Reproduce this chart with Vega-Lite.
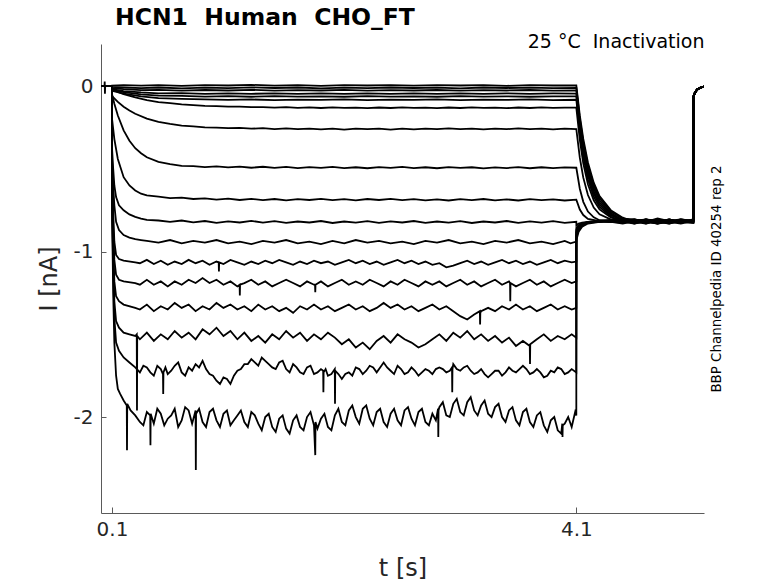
{
"$schema":"https://vega.github.io/schema/vega-lite/v6.json",
"width":603,"height":469,
"autosize":{"type":"none"},
"padding":{"left":101,"top":44,"right":74,"bottom":70},
"background":"white",
"config":{"view":{"stroke":null},"font":"DejaVu Sans"},
"title":{"text":"HCN1\u00a0\u00a0Human\u00a0\u00a0CHO_FT","anchor":"start","frame":"group","dx":14,"offset":3,"fontSize":23.5,"fontWeight":"bold","font":"DejaVu Sans","color":"#000000"},
"layer":[
{"data":{"values":[
{"k":1,"t":0.005,"i":0},{"k":1,"t":0.035,"i":0},{"k":1,"t":0.037,"i":0.028},{"k":1,"t":0.039,"i":-0.045},{"k":1,"t":0.041,"i":0},{"k":1,"t":0.1,"i":0},{"k":1,"t":0.1005,"i":0.004},{"k":1,"t":0.2,"i":0.007},{"k":1,"t":0.35,"i":0.003},{"k":1,"t":0.5,"i":0.006},{"k":1,"t":0.7,"i":0.002},{"k":1,"t":0.9,"i":0.007},{"k":1,"t":1.1,"i":0.004},{"k":1,"t":1.3,"i":0.008},{"k":1,"t":1.5,"i":0.003},{"k":1,"t":1.7,"i":0.006},{"k":1,"t":1.9,"i":0.002},{"k":1,"t":2.1,"i":0.007},{"k":1,"t":2.3,"i":0.004},{"k":1,"t":2.5,"i":0.006},{"k":1,"t":2.7,"i":0.003},{"k":1,"t":2.9,"i":0.007},{"k":1,"t":3.1,"i":0.004},{"k":1,"t":3.3,"i":0.006},{"k":1,"t":3.5,"i":0.002},{"k":1,"t":3.7,"i":0.007},{"k":1,"t":3.9,"i":0.004},{"k":1,"t":4.1,"i":0.005},
{"k":1,"t":4.13,"i":-0.177},{"k":1,"t":4.16,"i":-0.319},{"k":1,"t":4.2,"i":-0.461},{"k":1,"t":4.25,"i":-0.583},{"k":1,"t":4.3,"i":-0.664},{"k":1,"t":4.4,"i":-0.752},{"k":1,"t":4.5,"i":-0.795},{"k":1,"t":4.6,"i":-0.82},{"k":1,"t":4.7,"i":-0.81},{"k":1,"t":4.8,"i":-0.825},{"k":1,"t":4.9,"i":-0.805},{"k":1,"t":5.0,"i":-0.82},{"k":1,"t":5.108,"i":-0.81},{"k":1,"t":5.1085,"i":-0.065},{"k":1,"t":5.12,"i":-0.042},{"k":1,"t":5.14,"i":-0.02},{"k":1,"t":5.17,"i":-0.008},{"k":1,"t":5.2,"i":-0.003},
{"k":2,"t":0.005,"i":0},{"k":2,"t":0.1,"i":0},{"k":2,"t":0.1005,"i":-0.004},{"k":2,"t":0.2,"i":-0.008},{"k":2,"t":0.35,"i":-0.012},{"k":2,"t":0.5,"i":-0.008},{"k":2,"t":0.7,"i":-0.013},{"k":2,"t":0.9,"i":-0.009},{"k":2,"t":1.1,"i":-0.012},{"k":2,"t":1.3,"i":-0.007},{"k":2,"t":1.5,"i":-0.011},{"k":2,"t":1.7,"i":-0.008},{"k":2,"t":1.9,"i":-0.013},{"k":2,"t":2.1,"i":-0.009},{"k":2,"t":2.3,"i":-0.012},{"k":2,"t":2.5,"i":-0.008},{"k":2,"t":2.7,"i":-0.011},{"k":2,"t":2.9,"i":-0.009},{"k":2,"t":3.1,"i":-0.013},{"k":2,"t":3.3,"i":-0.008},{"k":2,"t":3.5,"i":-0.011},{"k":2,"t":3.7,"i":-0.009},{"k":2,"t":3.9,"i":-0.012},{"k":2,"t":4.1,"i":-0.01},
{"k":2,"t":4.13,"i":-0.196},{"k":2,"t":4.16,"i":-0.34},{"k":2,"t":4.2,"i":-0.48},{"k":2,"t":4.25,"i":-0.6},{"k":2,"t":4.3,"i":-0.677},{"k":2,"t":4.4,"i":-0.76},{"k":2,"t":4.5,"i":-0.8},{"k":2,"t":4.6,"i":-0.805},{"k":2,"t":4.7,"i":-0.825},{"k":2,"t":4.8,"i":-0.81},{"k":2,"t":4.9,"i":-0.82},{"k":2,"t":5.0,"i":-0.805},{"k":2,"t":5.108,"i":-0.815},{"k":2,"t":5.1085,"i":-0.062},{"k":2,"t":5.12,"i":-0.04},{"k":2,"t":5.14,"i":-0.019},{"k":2,"t":5.17,"i":-0.007},{"k":2,"t":5.2,"i":-0.002},
{"k":3,"t":0.005,"i":0},{"k":3,"t":0.1,"i":0},{"k":3,"t":0.1005,"i":-0.012},{"k":3,"t":0.2,"i":-0.018},{"k":3,"t":0.35,"i":-0.024},{"k":3,"t":0.5,"i":-0.022},{"k":3,"t":0.7,"i":-0.027},{"k":3,"t":0.9,"i":-0.023},{"k":3,"t":1.1,"i":-0.026},{"k":3,"t":1.3,"i":-0.022},{"k":3,"t":1.5,"i":-0.027},{"k":3,"t":1.7,"i":-0.024},{"k":3,"t":1.9,"i":-0.026},{"k":3,"t":2.1,"i":-0.022},{"k":3,"t":2.3,"i":-0.027},{"k":3,"t":2.5,"i":-0.024},{"k":3,"t":2.7,"i":-0.026},{"k":3,"t":2.9,"i":-0.023},{"k":3,"t":3.1,"i":-0.027},{"k":3,"t":3.3,"i":-0.024},{"k":3,"t":3.5,"i":-0.026},{"k":3,"t":3.7,"i":-0.023},{"k":3,"t":3.9,"i":-0.027},{"k":3,"t":4.1,"i":-0.025},
{"k":3,"t":4.13,"i":-0.215},{"k":3,"t":4.16,"i":-0.359},{"k":3,"t":4.2,"i":-0.5},{"k":3,"t":4.25,"i":-0.616},{"k":3,"t":4.3,"i":-0.691},{"k":3,"t":4.4,"i":-0.768},{"k":3,"t":4.5,"i":-0.81},{"k":3,"t":4.6,"i":-0.825},{"k":3,"t":4.7,"i":-0.805},{"k":3,"t":4.8,"i":-0.82},{"k":3,"t":4.9,"i":-0.81},{"k":3,"t":5.0,"i":-0.825},{"k":3,"t":5.108,"i":-0.815},{"k":3,"t":5.1085,"i":-0.066},{"k":3,"t":5.12,"i":-0.043},{"k":3,"t":5.14,"i":-0.021},{"k":3,"t":5.17,"i":-0.009},{"k":3,"t":5.2,"i":-0.003},
{"k":4,"t":0.005,"i":0},{"k":4,"t":0.1,"i":0},{"k":4,"t":0.1005,"i":-0.018},{"k":4,"t":0.2,"i":-0.03},{"k":4,"t":0.35,"i":-0.038},{"k":4,"t":0.5,"i":-0.043},{"k":4,"t":0.7,"i":-0.042},{"k":4,"t":0.9,"i":-0.047},{"k":4,"t":1.1,"i":-0.043},{"k":4,"t":1.3,"i":-0.046},{"k":4,"t":1.5,"i":-0.044},{"k":4,"t":1.7,"i":-0.047},{"k":4,"t":1.9,"i":-0.043},{"k":4,"t":2.1,"i":-0.046},{"k":4,"t":2.3,"i":-0.044},{"k":4,"t":2.5,"i":-0.047},{"k":4,"t":2.7,"i":-0.043},{"k":4,"t":2.9,"i":-0.046},{"k":4,"t":3.1,"i":-0.044},{"k":4,"t":3.3,"i":-0.047},{"k":4,"t":3.5,"i":-0.043},{"k":4,"t":3.7,"i":-0.046},{"k":4,"t":3.9,"i":-0.044},{"k":4,"t":4.1,"i":-0.045},
{"k":4,"t":4.13,"i":-0.238},{"k":4,"t":4.16,"i":-0.382},{"k":4,"t":4.2,"i":-0.521},{"k":4,"t":4.25,"i":-0.634},{"k":4,"t":4.3,"i":-0.705},{"k":4,"t":4.4,"i":-0.776},{"k":4,"t":4.5,"i":-0.82},{"k":4,"t":4.6,"i":-0.81},{"k":4,"t":4.7,"i":-0.83},{"k":4,"t":4.8,"i":-0.805},{"k":4,"t":4.9,"i":-0.82},{"k":4,"t":5.0,"i":-0.81},{"k":4,"t":5.108,"i":-0.82},{"k":4,"t":5.1085,"i":-0.064},{"k":4,"t":5.12,"i":-0.041},{"k":4,"t":5.14,"i":-0.02},{"k":4,"t":5.17,"i":-0.008},{"k":4,"t":5.2,"i":-0.003},
{"k":5,"t":0.005,"i":0},{"k":5,"t":0.1,"i":0},{"k":5,"t":0.1005,"i":-0.022},{"k":5,"t":0.2,"i":-0.036},{"k":5,"t":0.35,"i":-0.05},{"k":5,"t":0.5,"i":-0.057},{"k":5,"t":0.7,"i":-0.058},{"k":5,"t":0.9,"i":-0.063},{"k":5,"t":1.1,"i":-0.06},{"k":5,"t":1.3,"i":-0.064},{"k":5,"t":1.5,"i":-0.06},{"k":5,"t":1.7,"i":-0.063},{"k":5,"t":1.9,"i":-0.061},{"k":5,"t":2.1,"i":-0.064},{"k":5,"t":2.3,"i":-0.06},{"k":5,"t":2.5,"i":-0.063},{"k":5,"t":2.7,"i":-0.061},{"k":5,"t":2.9,"i":-0.064},{"k":5,"t":3.1,"i":-0.06},{"k":5,"t":3.3,"i":-0.063},{"k":5,"t":3.5,"i":-0.061},{"k":5,"t":3.7,"i":-0.064},{"k":5,"t":3.9,"i":-0.061},{"k":5,"t":4.1,"i":-0.062},
{"k":5,"t":4.13,"i":-0.257},{"k":5,"t":4.16,"i":-0.403},{"k":5,"t":4.2,"i":-0.54},{"k":5,"t":4.25,"i":-0.65},{"k":5,"t":4.3,"i":-0.717},{"k":5,"t":4.4,"i":-0.782},{"k":5,"t":4.5,"i":-0.805},{"k":5,"t":4.6,"i":-0.82},{"k":5,"t":4.7,"i":-0.81},{"k":5,"t":4.8,"i":-0.825},{"k":5,"t":4.9,"i":-0.815},{"k":5,"t":5.0,"i":-0.805},{"k":5,"t":5.108,"i":-0.82},{"k":5,"t":5.1085,"i":-0.067},{"k":5,"t":5.12,"i":-0.044},{"k":5,"t":5.14,"i":-0.022},{"k":5,"t":5.17,"i":-0.009},{"k":5,"t":5.2,"i":-0.004},
{"k":6,"t":0.005,"i":0},{"k":6,"t":0.1,"i":0},{"k":6,"t":0.1005,"i":-0.028},{"k":6,"t":0.2,"i":-0.045},{"k":6,"t":0.35,"i":-0.062},{"k":6,"t":0.5,"i":-0.072},{"k":6,"t":0.7,"i":-0.077},{"k":6,"t":0.9,"i":-0.08},{"k":6,"t":1.1,"i":-0.083},{"k":6,"t":1.3,"i":-0.08},{"k":6,"t":1.5,"i":-0.084},{"k":6,"t":1.7,"i":-0.081},{"k":6,"t":1.9,"i":-0.083},{"k":6,"t":2.1,"i":-0.08},{"k":6,"t":2.3,"i":-0.084},{"k":6,"t":2.5,"i":-0.081},{"k":6,"t":2.7,"i":-0.083},{"k":6,"t":2.9,"i":-0.08},{"k":6,"t":3.1,"i":-0.084},{"k":6,"t":3.3,"i":-0.081},{"k":6,"t":3.5,"i":-0.083},{"k":6,"t":3.7,"i":-0.08},{"k":6,"t":3.9,"i":-0.084},{"k":6,"t":4.1,"i":-0.082},
{"k":6,"t":4.13,"i":-0.28},{"k":6,"t":4.16,"i":-0.426},{"k":6,"t":4.2,"i":-0.562},{"k":6,"t":4.25,"i":-0.668},{"k":6,"t":4.3,"i":-0.73},{"k":6,"t":4.4,"i":-0.789},{"k":6,"t":4.5,"i":-0.825},{"k":6,"t":4.6,"i":-0.81},{"k":6,"t":4.7,"i":-0.82},{"k":6,"t":4.8,"i":-0.8},{"k":6,"t":4.9,"i":-0.815},{"k":6,"t":5.0,"i":-0.825},{"k":6,"t":5.108,"i":-0.81},{"k":6,"t":5.1085,"i":-0.063},{"k":6,"t":5.12,"i":-0.04},{"k":6,"t":5.14,"i":-0.02},{"k":6,"t":5.17,"i":-0.008},{"k":6,"t":5.2,"i":-0.003},
{"k":7,"t":0.005,"i":0},{"k":7,"t":0.1,"i":0},{"k":7,"t":0.1005,"i":-0.02},{"k":7,"t":0.15,"i":-0.035},{"k":7,"t":0.2,"i":-0.048},{"k":7,"t":0.3,"i":-0.068},{"k":7,"t":0.4,"i":-0.084},{"k":7,"t":0.5,"i":-0.096},{"k":7,"t":0.6,"i":-0.103},{"k":7,"t":0.7,"i":-0.11},{"k":7,"t":0.8,"i":-0.114},{"k":7,"t":0.9,"i":-0.119},{"k":7,"t":1.0,"i":-0.12},{"k":7,"t":1.1,"i":-0.124},{"k":7,"t":1.2,"i":-0.123},{"k":7,"t":1.3,"i":-0.127},{"k":7,"t":1.4,"i":-0.126},{"k":7,"t":1.5,"i":-0.13},{"k":7,"t":1.6,"i":-0.127},{"k":7,"t":1.7,"i":-0.131},{"k":7,"t":1.8,"i":-0.128},{"k":7,"t":1.9,"i":-0.132},{"k":7,"t":2.0,"i":-0.128},{"k":7,"t":2.1,"i":-0.131},{"k":7,"t":2.2,"i":-0.129},{"k":7,"t":2.3,"i":-0.133},{"k":7,"t":2.4,"i":-0.129},{"k":7,"t":2.5,"i":-0.132},{"k":7,"t":2.6,"i":-0.128},{"k":7,"t":2.7,"i":-0.131},{"k":7,"t":2.8,"i":-0.129},{"k":7,"t":2.9,"i":-0.133},{"k":7,"t":3.0,"i":-0.129},{"k":7,"t":3.1,"i":-0.132},{"k":7,"t":3.2,"i":-0.128},{"k":7,"t":3.3,"i":-0.131},{"k":7,"t":3.4,"i":-0.129},{"k":7,"t":3.5,"i":-0.133},{"k":7,"t":3.6,"i":-0.129},{"k":7,"t":3.7,"i":-0.132},{"k":7,"t":3.8,"i":-0.128},{"k":7,"t":3.9,"i":-0.131},{"k":7,"t":4.0,"i":-0.129},{"k":7,"t":4.1,"i":-0.13},
{"k":7,"t":4.13,"i":-0.325},{"k":7,"t":4.16,"i":-0.466},{"k":7,"t":4.2,"i":-0.593},{"k":7,"t":4.25,"i":-0.69},{"k":7,"t":4.3,"i":-0.745},{"k":7,"t":4.4,"i":-0.795},{"k":7,"t":4.5,"i":-0.81},{"k":7,"t":4.6,"i":-0.83},{"k":7,"t":4.7,"i":-0.815},{"k":7,"t":4.8,"i":-0.82},{"k":7,"t":4.9,"i":-0.805},{"k":7,"t":5.0,"i":-0.82},{"k":7,"t":5.108,"i":-0.815},{"k":7,"t":5.1085,"i":-0.066},{"k":7,"t":5.12,"i":-0.043},{"k":7,"t":5.14,"i":-0.021},{"k":7,"t":5.17,"i":-0.008},{"k":7,"t":5.2,"i":-0.003},
{"k":8,"t":0.005,"i":0},{"k":8,"t":0.1,"i":0},{"k":8,"t":0.1005,"i":-0.06},{"k":8,"t":0.15,"i":-0.095},{"k":8,"t":0.2,"i":-0.124},{"k":8,"t":0.25,"i":-0.147},{"k":8,"t":0.3,"i":-0.167},{"k":8,"t":0.4,"i":-0.196},{"k":8,"t":0.5,"i":-0.216},{"k":8,"t":0.6,"i":-0.228},{"k":8,"t":0.7,"i":-0.238},{"k":8,"t":0.8,"i":-0.243},{"k":8,"t":0.9,"i":-0.249},{"k":8,"t":1.0,"i":-0.25},{"k":8,"t":1.1,"i":-0.254},{"k":8,"t":1.2,"i":-0.252},{"k":8,"t":1.3,"i":-0.257},{"k":8,"t":1.4,"i":-0.254},{"k":8,"t":1.5,"i":-0.259},{"k":8,"t":1.6,"i":-0.255},{"k":8,"t":1.7,"i":-0.26},{"k":8,"t":1.8,"i":-0.256},{"k":8,"t":1.9,"i":-0.261},{"k":8,"t":2.0,"i":-0.257},{"k":8,"t":2.1,"i":-0.262},{"k":8,"t":2.2,"i":-0.256},{"k":8,"t":2.3,"i":-0.26},{"k":8,"t":2.4,"i":-0.257},{"k":8,"t":2.5,"i":-0.262},{"k":8,"t":2.6,"i":-0.256},{"k":8,"t":2.7,"i":-0.261},{"k":8,"t":2.8,"i":-0.257},{"k":8,"t":2.9,"i":-0.26},{"k":8,"t":3.0,"i":-0.255},{"k":8,"t":3.1,"i":-0.26},{"k":8,"t":3.2,"i":-0.256},{"k":8,"t":3.3,"i":-0.261},{"k":8,"t":3.4,"i":-0.257},{"k":8,"t":3.5,"i":-0.26},{"k":8,"t":3.6,"i":-0.255},{"k":8,"t":3.7,"i":-0.26},{"k":8,"t":3.8,"i":-0.256},{"k":8,"t":3.9,"i":-0.261},{"k":8,"t":4.0,"i":-0.257},{"k":8,"t":4.1,"i":-0.259},
{"k":8,"t":4.13,"i":-0.432},{"k":8,"t":4.16,"i":-0.553},{"k":8,"t":4.2,"i":-0.658},{"k":8,"t":4.25,"i":-0.734},{"k":8,"t":4.3,"i":-0.774},{"k":8,"t":4.4,"i":-0.807},{"k":8,"t":4.5,"i":-0.82},{"k":8,"t":4.6,"i":-0.805},{"k":8,"t":4.7,"i":-0.815},{"k":8,"t":4.8,"i":-0.83},{"k":8,"t":4.9,"i":-0.81},{"k":8,"t":5.0,"i":-0.82},{"k":8,"t":5.108,"i":-0.805},{"k":8,"t":5.1085,"i":-0.065},{"k":8,"t":5.12,"i":-0.042},{"k":8,"t":5.14,"i":-0.02},{"k":8,"t":5.17,"i":-0.008},{"k":8,"t":5.2,"i":-0.003},
{"k":9,"t":0.005,"i":0},{"k":9,"t":0.1,"i":0},{"k":9,"t":0.1005,"i":-0.05},{"k":9,"t":0.12,"i":-0.106},{"k":9,"t":0.15,"i":-0.177},{"k":9,"t":0.2,"i":-0.267},{"k":9,"t":0.25,"i":-0.33},{"k":9,"t":0.3,"i":-0.375},{"k":9,"t":0.35,"i":-0.405},{"k":9,"t":0.4,"i":-0.43},{"k":9,"t":0.5,"i":-0.457},{"k":9,"t":0.6,"i":-0.471},{"k":9,"t":0.7,"i":-0.482},{"k":9,"t":0.8,"i":-0.483},{"k":9,"t":0.9,"i":-0.489},{"k":9,"t":1.0,"i":-0.485},{"k":9,"t":1.1,"i":-0.491},{"k":9,"t":1.2,"i":-0.486},{"k":9,"t":1.3,"i":-0.493},{"k":9,"t":1.4,"i":-0.487},{"k":9,"t":1.5,"i":-0.494},{"k":9,"t":1.6,"i":-0.488},{"k":9,"t":1.7,"i":-0.495},{"k":9,"t":1.8,"i":-0.489},{"k":9,"t":1.9,"i":-0.494},{"k":9,"t":2.0,"i":-0.488},{"k":9,"t":2.1,"i":-0.495},{"k":9,"t":2.2,"i":-0.49},{"k":9,"t":2.3,"i":-0.496},{"k":9,"t":2.4,"i":-0.489},{"k":9,"t":2.5,"i":-0.494},{"k":9,"t":2.6,"i":-0.488},{"k":9,"t":2.7,"i":-0.495},{"k":9,"t":2.8,"i":-0.49},{"k":9,"t":2.9,"i":-0.496},{"k":9,"t":3.0,"i":-0.489},{"k":9,"t":3.1,"i":-0.494},{"k":9,"t":3.2,"i":-0.49},{"k":9,"t":3.3,"i":-0.497},{"k":9,"t":3.4,"i":-0.491},{"k":9,"t":3.5,"i":-0.495},{"k":9,"t":3.6,"i":-0.489},{"k":9,"t":3.7,"i":-0.496},{"k":9,"t":3.8,"i":-0.49},{"k":9,"t":3.9,"i":-0.495},{"k":9,"t":4.0,"i":-0.491},{"k":9,"t":4.1,"i":-0.493},
{"k":9,"t":4.13,"i":-0.62},{"k":9,"t":4.16,"i":-0.699},{"k":9,"t":4.2,"i":-0.758},{"k":9,"t":4.25,"i":-0.793},{"k":9,"t":4.3,"i":-0.81},{"k":9,"t":4.4,"i":-0.815},{"k":9,"t":4.5,"i":-0.815},{"k":9,"t":4.6,"i":-0.825},{"k":9,"t":4.7,"i":-0.805},{"k":9,"t":4.8,"i":-0.815},{"k":9,"t":4.9,"i":-0.825},{"k":9,"t":5.0,"i":-0.81},{"k":9,"t":5.108,"i":-0.82},{"k":9,"t":5.1085,"i":-0.064},{"k":9,"t":5.12,"i":-0.041},{"k":9,"t":5.14,"i":-0.02},{"k":9,"t":5.17,"i":-0.008},{"k":9,"t":5.2,"i":-0.003},
{"k":10,"t":0.005,"i":0},{"k":10,"t":0.1,"i":0},{"k":10,"t":0.1005,"i":-0.2},{"k":10,"t":0.12,"i":-0.32},{"k":10,"t":0.15,"i":-0.44},{"k":10,"t":0.2,"i":-0.55},{"k":10,"t":0.25,"i":-0.6},{"k":10,"t":0.3,"i":-0.63},{"k":10,"t":0.35,"i":-0.65},{"k":10,"t":0.4,"i":-0.66},{"k":10,"t":0.5,"i":-0.668},{"k":10,"t":0.6,"i":-0.677},{"k":10,"t":0.7,"i":-0.674},{"k":10,"t":0.8,"i":-0.682},{"k":10,"t":0.9,"i":-0.678},{"k":10,"t":1.0,"i":-0.686},{"k":10,"t":1.1,"i":-0.68},{"k":10,"t":1.2,"i":-0.688},{"k":10,"t":1.3,"i":-0.681},{"k":10,"t":1.4,"i":-0.689},{"k":10,"t":1.5,"i":-0.682},{"k":10,"t":1.6,"i":-0.69},{"k":10,"t":1.7,"i":-0.683},{"k":10,"t":1.8,"i":-0.688},{"k":10,"t":1.9,"i":-0.681},{"k":10,"t":2.0,"i":-0.689},{"k":10,"t":2.1,"i":-0.683},{"k":10,"t":2.2,"i":-0.69},{"k":10,"t":2.3,"i":-0.682},{"k":10,"t":2.4,"i":-0.688},{"k":10,"t":2.5,"i":-0.681},{"k":10,"t":2.6,"i":-0.689},{"k":10,"t":2.7,"i":-0.683},{"k":10,"t":2.8,"i":-0.69},{"k":10,"t":2.9,"i":-0.684},{"k":10,"t":3.0,"i":-0.691},{"k":10,"t":3.1,"i":-0.683},{"k":10,"t":3.2,"i":-0.689},{"k":10,"t":3.3,"i":-0.682},{"k":10,"t":3.4,"i":-0.69},{"k":10,"t":3.5,"i":-0.684},{"k":10,"t":3.6,"i":-0.691},{"k":10,"t":3.7,"i":-0.683},{"k":10,"t":3.8,"i":-0.689},{"k":10,"t":3.9,"i":-0.684},{"k":10,"t":4.0,"i":-0.691},{"k":10,"t":4.1,"i":-0.686},
{"k":10,"t":4.13,"i":-0.746},{"k":10,"t":4.16,"i":-0.779},{"k":10,"t":4.2,"i":-0.802},{"k":10,"t":4.3,"i":-0.815},{"k":10,"t":4.4,"i":-0.81},{"k":10,"t":4.5,"i":-0.805},{"k":10,"t":4.6,"i":-0.815},{"k":10,"t":4.7,"i":-0.825},{"k":10,"t":4.8,"i":-0.81},{"k":10,"t":4.9,"i":-0.82},{"k":10,"t":5.0,"i":-0.83},{"k":10,"t":5.108,"i":-0.815},{"k":10,"t":5.1085,"i":-0.066},{"k":10,"t":5.12,"i":-0.043},{"k":10,"t":5.14,"i":-0.021},{"k":10,"t":5.17,"i":-0.009},{"k":10,"t":5.2,"i":-0.003},
{"k":11,"t":0.005,"i":0},{"k":11,"t":0.1,"i":0},{"k":11,"t":0.1005,"i":-0.38},{"k":11,"t":0.11,"i":-0.5},{"k":11,"t":0.12,"i":-0.6},{"k":11,"t":0.135,"i":-0.67},{"k":11,"t":0.16,"i":-0.72},{"k":11,"t":0.2,"i":-0.75},{"k":11,"t":0.25,"i":-0.775},{"k":11,"t":0.3,"i":-0.79},{"k":11,"t":0.35,"i":-0.8},{"k":11,"t":0.4,"i":-0.808},{"k":11,"t":0.5,"i":-0.812},{"k":11,"t":0.6,"i":-0.82},{"k":11,"t":0.7,"i":-0.812},{"k":11,"t":0.8,"i":-0.823},{"k":11,"t":0.9,"i":-0.815},{"k":11,"t":1.0,"i":-0.826},{"k":11,"t":1.1,"i":-0.817},{"k":11,"t":1.2,"i":-0.824},{"k":11,"t":1.3,"i":-0.814},{"k":11,"t":1.4,"i":-0.825},{"k":11,"t":1.5,"i":-0.816},{"k":11,"t":1.6,"i":-0.826},{"k":11,"t":1.7,"i":-0.818},{"k":11,"t":1.8,"i":-0.824},{"k":11,"t":1.9,"i":-0.815},{"k":11,"t":2.0,"i":-0.827},{"k":11,"t":2.1,"i":-0.818},{"k":11,"t":2.2,"i":-0.825},{"k":11,"t":2.3,"i":-0.816},{"k":11,"t":2.4,"i":-0.826},{"k":11,"t":2.5,"i":-0.817},{"k":11,"t":2.6,"i":-0.824},{"k":11,"t":2.7,"i":-0.815},{"k":11,"t":2.8,"i":-0.826},{"k":11,"t":2.9,"i":-0.818},{"k":11,"t":3.0,"i":-0.825},{"k":11,"t":3.1,"i":-0.816},{"k":11,"t":3.2,"i":-0.827},{"k":11,"t":3.3,"i":-0.818},{"k":11,"t":3.4,"i":-0.824},{"k":11,"t":3.5,"i":-0.815},{"k":11,"t":3.6,"i":-0.826},{"k":11,"t":3.7,"i":-0.817},{"k":11,"t":3.8,"i":-0.825},{"k":11,"t":3.9,"i":-0.816},{"k":11,"t":4.0,"i":-0.826},{"k":11,"t":4.1,"i":-0.82},
{"k":11,"t":4.1005,"i":-0.84},{"k":11,"t":4.12,"i":-0.83},{"k":11,"t":4.15,"i":-0.825},{"k":11,"t":4.2,"i":-0.82},{"k":11,"t":4.3,"i":-0.815},{"k":11,"t":4.4,"i":-0.82},{"k":11,"t":4.5,"i":-0.825},{"k":11,"t":4.6,"i":-0.81},{"k":11,"t":4.7,"i":-0.82},{"k":11,"t":4.8,"i":-0.815},{"k":11,"t":4.9,"i":-0.83},{"k":11,"t":5.0,"i":-0.81},{"k":11,"t":5.108,"i":-0.82},{"k":11,"t":5.1085,"i":-0.065},{"k":11,"t":5.12,"i":-0.042},{"k":11,"t":5.14,"i":-0.02},{"k":11,"t":5.17,"i":-0.008},{"k":11,"t":5.2,"i":-0.003},
{"k":12,"t":0.005,"i":0},{"k":12,"t":0.1,"i":0},{"k":12,"t":0.1005,"i":-0.45},{"k":12,"t":0.11,"i":-0.6},{"k":12,"t":0.12,"i":-0.72},{"k":12,"t":0.135,"i":-0.82},{"k":12,"t":0.16,"i":-0.87},{"k":12,"t":0.2,"i":-0.9},{"k":12,"t":0.25,"i":-0.915},{"k":12,"t":0.3,"i":-0.925},{"k":12,"t":0.35,"i":-0.93},{"k":12,"t":0.4,"i":-0.935},{"k":12,"t":0.5,"i":-0.945},{"k":12,"t":0.6,"i":-0.93},{"k":12,"t":0.7,"i":-0.95},{"k":12,"t":0.8,"i":-0.935},{"k":12,"t":0.9,"i":-0.945},{"k":12,"t":1.0,"i":-0.93},{"k":12,"t":1.1,"i":-0.95},{"k":12,"t":1.2,"i":-0.94},{"k":12,"t":1.3,"i":-0.955},{"k":12,"t":1.4,"i":-0.935},{"k":12,"t":1.5,"i":-0.945},{"k":12,"t":1.6,"i":-0.93},{"k":12,"t":1.7,"i":-0.95},{"k":12,"t":1.8,"i":-0.94},{"k":12,"t":1.9,"i":-0.955},{"k":12,"t":2.0,"i":-0.935},{"k":12,"t":2.1,"i":-0.95},{"k":12,"t":2.2,"i":-0.93},{"k":12,"t":2.3,"i":-0.945},{"k":12,"t":2.4,"i":-0.935},{"k":12,"t":2.5,"i":-0.95},{"k":12,"t":2.6,"i":-0.94},{"k":12,"t":2.7,"i":-0.955},{"k":12,"t":2.8,"i":-0.935},{"k":12,"t":2.9,"i":-0.945},{"k":12,"t":3.0,"i":-0.93},{"k":12,"t":3.1,"i":-0.95},{"k":12,"t":3.2,"i":-0.94},{"k":12,"t":3.3,"i":-0.955},{"k":12,"t":3.4,"i":-0.935},{"k":12,"t":3.5,"i":-0.945},{"k":12,"t":3.6,"i":-0.93},{"k":12,"t":3.7,"i":-0.95},{"k":12,"t":3.8,"i":-0.94},{"k":12,"t":3.9,"i":-0.955},{"k":12,"t":4.0,"i":-0.935},{"k":12,"t":4.05,"i":-0.95},{"k":12,"t":4.1,"i":-0.94},
{"k":12,"t":4.1005,"i":-0.855},{"k":12,"t":4.12,"i":-0.84},{"k":12,"t":4.15,"i":-0.83},{"k":12,"t":4.2,"i":-0.82},{"k":12,"t":4.3,"i":-0.815},{"k":12,"t":4.4,"i":-0.82},{"k":12,"t":4.5,"i":-0.81},{"k":12,"t":4.6,"i":-0.82},{"k":12,"t":4.7,"i":-0.805},{"k":12,"t":4.8,"i":-0.825},{"k":12,"t":4.9,"i":-0.81},{"k":12,"t":5.0,"i":-0.82},{"k":12,"t":5.108,"i":-0.825},{"k":12,"t":5.1085,"i":-0.067},{"k":12,"t":5.12,"i":-0.044},{"k":12,"t":5.14,"i":-0.022},{"k":12,"t":5.17,"i":-0.009},{"k":12,"t":5.2,"i":-0.003},
{"k":13,"t":0.005,"i":0},{"k":13,"t":0.1,"i":0},{"k":13,"t":0.1005,"i":-0.5},{"k":13,"t":0.11,"i":-0.76},{"k":13,"t":0.12,"i":-0.94},{"k":13,"t":0.135,"i":-1.02},{"k":13,"t":0.16,"i":-1.045},{"k":13,"t":0.2,"i":-1.055},{"k":13,"t":0.3,"i":-1.065},{"k":13,"t":0.34,"i":-1.07},{"k":13,"t":0.4,"i":-1.05},{"k":13,"t":0.46,"i":-1.075},{"k":13,"t":0.52,"i":-1.055},{"k":13,"t":0.58,"i":-1.08},{"k":13,"t":0.64,"i":-1.06},{"k":13,"t":0.7,"i":-1.075},{"k":13,"t":0.76,"i":-1.05},{"k":13,"t":0.82,"i":-1.07},{"k":13,"t":0.88,"i":-1.055},{"k":13,"t":0.94,"i":-1.08},{"k":13,"t":1.0,"i":-1.06},{"k":13,"t":1.019,"i":-1.065},{"k":13,"t":1.021,"i":-1.12},{"k":13,"t":1.023,"i":-1.065},{"k":13,"t":1.06,"i":-1.075},{"k":13,"t":1.12,"i":-1.05},{"k":13,"t":1.18,"i":-1.065},{"k":13,"t":1.24,"i":-1.08},{"k":13,"t":1.3,"i":-1.06},{"k":13,"t":1.36,"i":-1.075},{"k":13,"t":1.42,"i":-1.055},{"k":13,"t":1.48,"i":-1.07},{"k":13,"t":1.54,"i":-1.05},{"k":13,"t":1.6,"i":-1.065},{"k":13,"t":1.66,"i":-1.08},{"k":13,"t":1.72,"i":-1.06},{"k":13,"t":1.78,"i":-1.075},{"k":13,"t":1.84,"i":-1.055},{"k":13,"t":1.9,"i":-1.07},{"k":13,"t":1.96,"i":-1.06},{"k":13,"t":2.02,"i":-1.08},{"k":13,"t":2.08,"i":-1.065},{"k":13,"t":2.14,"i":-1.05},{"k":13,"t":2.2,"i":-1.07},{"k":13,"t":2.26,"i":-1.055},{"k":13,"t":2.32,"i":-1.075},{"k":13,"t":2.38,"i":-1.06},{"k":13,"t":2.44,"i":-1.08},{"k":13,"t":2.5,"i":-1.065},{"k":13,"t":2.56,"i":-1.05},{"k":13,"t":2.62,"i":-1.07},{"k":13,"t":2.68,"i":-1.055},{"k":13,"t":2.74,"i":-1.075},{"k":13,"t":2.8,"i":-1.06},{"k":13,"t":2.86,"i":-1.08},{"k":13,"t":2.92,"i":-1.07},{"k":13,"t":2.98,"i":-1.095},{"k":13,"t":3.04,"i":-1.085},{"k":13,"t":3.1,"i":-1.07},{"k":13,"t":3.16,"i":-1.055},{"k":13,"t":3.22,"i":-1.075},{"k":13,"t":3.28,"i":-1.06},{"k":13,"t":3.34,"i":-1.08},{"k":13,"t":3.4,"i":-1.065},{"k":13,"t":3.46,"i":-1.05},{"k":13,"t":3.52,"i":-1.07},{"k":13,"t":3.58,"i":-1.055},{"k":13,"t":3.64,"i":-1.075},{"k":13,"t":3.7,"i":-1.06},{"k":13,"t":3.76,"i":-1.08},{"k":13,"t":3.82,"i":-1.065},{"k":13,"t":3.88,"i":-1.05},{"k":13,"t":3.94,"i":-1.07},{"k":13,"t":4.0,"i":-1.055},{"k":13,"t":4.06,"i":-1.065},{"k":13,"t":4.1,"i":-1.06},
{"k":13,"t":4.1005,"i":-0.865},{"k":13,"t":4.12,"i":-0.845},{"k":13,"t":4.15,"i":-0.83},{"k":13,"t":4.2,"i":-0.825},{"k":13,"t":4.3,"i":-0.815},{"k":13,"t":4.4,"i":-0.81},{"k":13,"t":4.5,"i":-0.82},{"k":13,"t":4.6,"i":-0.83},{"k":13,"t":4.7,"i":-0.815},{"k":13,"t":4.8,"i":-0.805},{"k":13,"t":4.9,"i":-0.82},{"k":13,"t":5.0,"i":-0.815},{"k":13,"t":5.108,"i":-0.81},{"k":13,"t":5.1085,"i":-0.064},{"k":13,"t":5.12,"i":-0.041},{"k":13,"t":5.14,"i":-0.02},{"k":13,"t":5.17,"i":-0.008},{"k":13,"t":5.2,"i":-0.003},
{"k":14,"t":0.005,"i":0},{"k":14,"t":0.1,"i":0},{"k":14,"t":0.1005,"i":-0.57},{"k":14,"t":0.11,"i":-0.85},{"k":14,"t":0.12,"i":-1.05},{"k":14,"t":0.135,"i":-1.14},{"k":14,"t":0.16,"i":-1.17},{"k":14,"t":0.2,"i":-1.18},{"k":14,"t":0.3,"i":-1.19},{"k":14,"t":0.34,"i":-1.2},{"k":14,"t":0.4,"i":-1.17},{"k":14,"t":0.46,"i":-1.2},{"k":14,"t":0.52,"i":-1.18},{"k":14,"t":0.58,"i":-1.21},{"k":14,"t":0.64,"i":-1.18},{"k":14,"t":0.7,"i":-1.2},{"k":14,"t":0.76,"i":-1.17},{"k":14,"t":0.82,"i":-1.19},{"k":14,"t":0.88,"i":-1.16},{"k":14,"t":0.94,"i":-1.19},{"k":14,"t":1.0,"i":-1.17},{"k":14,"t":1.06,"i":-1.2},{"k":14,"t":1.12,"i":-1.18},{"k":14,"t":1.18,"i":-1.21},{"k":14,"t":1.199,"i":-1.2},{"k":14,"t":1.201,"i":-1.265},{"k":14,"t":1.203,"i":-1.2},{"k":14,"t":1.24,"i":-1.19},{"k":14,"t":1.3,"i":-1.17},{"k":14,"t":1.36,"i":-1.2},{"k":14,"t":1.42,"i":-1.18},{"k":14,"t":1.48,"i":-1.21},{"k":14,"t":1.54,"i":-1.19},{"k":14,"t":1.6,"i":-1.17},{"k":14,"t":1.66,"i":-1.19},{"k":14,"t":1.72,"i":-1.21},{"k":14,"t":1.78,"i":-1.18},{"k":14,"t":1.84,"i":-1.2},{"k":14,"t":1.849,"i":-1.2},{"k":14,"t":1.851,"i":-1.245},{"k":14,"t":1.853,"i":-1.2},{"k":14,"t":1.9,"i":-1.18},{"k":14,"t":1.96,"i":-1.21},{"k":14,"t":2.02,"i":-1.19},{"k":14,"t":2.08,"i":-1.17},{"k":14,"t":2.14,"i":-1.2},{"k":14,"t":2.2,"i":-1.18},{"k":14,"t":2.26,"i":-1.2},{"k":14,"t":2.32,"i":-1.17},{"k":14,"t":2.38,"i":-1.19},{"k":14,"t":2.44,"i":-1.21},{"k":14,"t":2.5,"i":-1.18},{"k":14,"t":2.56,"i":-1.2},{"k":14,"t":2.62,"i":-1.17},{"k":14,"t":2.68,"i":-1.19},{"k":14,"t":2.74,"i":-1.21},{"k":14,"t":2.8,"i":-1.18},{"k":14,"t":2.86,"i":-1.2},{"k":14,"t":2.92,"i":-1.18},{"k":14,"t":2.98,"i":-1.21},{"k":14,"t":3.04,"i":-1.19},{"k":14,"t":3.1,"i":-1.17},{"k":14,"t":3.16,"i":-1.2},{"k":14,"t":3.22,"i":-1.18},{"k":14,"t":3.28,"i":-1.21},{"k":14,"t":3.34,"i":-1.19},{"k":14,"t":3.4,"i":-1.17},{"k":14,"t":3.46,"i":-1.2},{"k":14,"t":3.52,"i":-1.18},{"k":14,"t":3.529,"i":-1.19},{"k":14,"t":3.531,"i":-1.3},{"k":14,"t":3.533,"i":-1.19},{"k":14,"t":3.58,"i":-1.21},{"k":14,"t":3.64,"i":-1.19},{"k":14,"t":3.7,"i":-1.17},{"k":14,"t":3.76,"i":-1.2},{"k":14,"t":3.82,"i":-1.18},{"k":14,"t":3.88,"i":-1.21},{"k":14,"t":3.94,"i":-1.19},{"k":14,"t":4.0,"i":-1.17},{"k":14,"t":4.06,"i":-1.19},{"k":14,"t":4.1,"i":-1.18},
{"k":14,"t":4.1005,"i":-0.875},{"k":14,"t":4.12,"i":-0.85},{"k":14,"t":4.15,"i":-0.835},{"k":14,"t":4.2,"i":-0.82},{"k":14,"t":4.3,"i":-0.82},{"k":14,"t":4.4,"i":-0.815},{"k":14,"t":4.5,"i":-0.815},{"k":14,"t":4.6,"i":-0.805},{"k":14,"t":4.7,"i":-0.82},{"k":14,"t":4.8,"i":-0.83},{"k":14,"t":4.9,"i":-0.815},{"k":14,"t":5.0,"i":-0.825},{"k":14,"t":5.108,"i":-0.81},{"k":14,"t":5.1085,"i":-0.066},{"k":14,"t":5.12,"i":-0.043},{"k":14,"t":5.14,"i":-0.021},{"k":14,"t":5.17,"i":-0.008},{"k":14,"t":5.2,"i":-0.003},
{"k":15,"t":0.005,"i":0},{"k":15,"t":0.1,"i":0},{"k":15,"t":0.1005,"i":-0.62},{"k":15,"t":0.11,"i":-0.95},{"k":15,"t":0.12,"i":-1.18},{"k":15,"t":0.135,"i":-1.27},{"k":15,"t":0.16,"i":-1.3},{"k":15,"t":0.2,"i":-1.32},{"k":15,"t":0.3,"i":-1.34},{"k":15,"t":0.34,"i":-1.35},{"k":15,"t":0.4,"i":-1.32},{"k":15,"t":0.46,"i":-1.36},{"k":15,"t":0.52,"i":-1.33},{"k":15,"t":0.58,"i":-1.35},{"k":15,"t":0.64,"i":-1.31},{"k":15,"t":0.7,"i":-1.34},{"k":15,"t":0.76,"i":-1.32},{"k":15,"t":0.82,"i":-1.36},{"k":15,"t":0.88,"i":-1.33},{"k":15,"t":0.94,"i":-1.35},{"k":15,"t":1.0,"i":-1.31},{"k":15,"t":1.06,"i":-1.34},{"k":15,"t":1.12,"i":-1.32},{"k":15,"t":1.18,"i":-1.35},{"k":15,"t":1.24,"i":-1.33},{"k":15,"t":1.3,"i":-1.36},{"k":15,"t":1.36,"i":-1.32},{"k":15,"t":1.42,"i":-1.35},{"k":15,"t":1.48,"i":-1.33},{"k":15,"t":1.54,"i":-1.36},{"k":15,"t":1.6,"i":-1.34},{"k":15,"t":1.66,"i":-1.37},{"k":15,"t":1.72,"i":-1.33},{"k":15,"t":1.78,"i":-1.35},{"k":15,"t":1.84,"i":-1.32},{"k":15,"t":1.9,"i":-1.35},{"k":15,"t":1.96,"i":-1.33},{"k":15,"t":2.02,"i":-1.36},{"k":15,"t":2.08,"i":-1.34},{"k":15,"t":2.14,"i":-1.32},{"k":15,"t":2.2,"i":-1.35},{"k":15,"t":2.26,"i":-1.33},{"k":15,"t":2.32,"i":-1.36},{"k":15,"t":2.38,"i":-1.34},{"k":15,"t":2.44,"i":-1.31},{"k":15,"t":2.5,"i":-1.34},{"k":15,"t":2.56,"i":-1.32},{"k":15,"t":2.62,"i":-1.35},{"k":15,"t":2.68,"i":-1.33},{"k":15,"t":2.74,"i":-1.36},{"k":15,"t":2.8,"i":-1.34},{"k":15,"t":2.86,"i":-1.32},{"k":15,"t":2.92,"i":-1.35},{"k":15,"t":2.98,"i":-1.33},{"k":15,"t":3.04,"i":-1.36},{"k":15,"t":3.1,"i":-1.39},{"k":15,"t":3.16,"i":-1.41},{"k":15,"t":3.22,"i":-1.38},{"k":15,"t":3.269,"i":-1.36},{"k":15,"t":3.271,"i":-1.44},{"k":15,"t":3.273,"i":-1.37},{"k":15,"t":3.28,"i":-1.36},{"k":15,"t":3.34,"i":-1.34},{"k":15,"t":3.4,"i":-1.36},{"k":15,"t":3.46,"i":-1.33},{"k":15,"t":3.52,"i":-1.35},{"k":15,"t":3.58,"i":-1.32},{"k":15,"t":3.64,"i":-1.35},{"k":15,"t":3.7,"i":-1.33},{"k":15,"t":3.76,"i":-1.36},{"k":15,"t":3.82,"i":-1.34},{"k":15,"t":3.88,"i":-1.32},{"k":15,"t":3.94,"i":-1.35},{"k":15,"t":4.0,"i":-1.33},{"k":15,"t":4.06,"i":-1.35},{"k":15,"t":4.1,"i":-1.34},
{"k":15,"t":4.1005,"i":-0.885},{"k":15,"t":4.12,"i":-0.86},{"k":15,"t":4.15,"i":-0.84},{"k":15,"t":4.2,"i":-0.825},{"k":15,"t":4.3,"i":-0.815},{"k":15,"t":4.4,"i":-0.82},{"k":15,"t":4.5,"i":-0.83},{"k":15,"t":4.6,"i":-0.815},{"k":15,"t":4.7,"i":-0.81},{"k":15,"t":4.8,"i":-0.82},{"k":15,"t":4.9,"i":-0.805},{"k":15,"t":5.0,"i":-0.82},{"k":15,"t":5.108,"i":-0.825},{"k":15,"t":5.1085,"i":-0.065},{"k":15,"t":5.12,"i":-0.042},{"k":15,"t":5.14,"i":-0.02},{"k":15,"t":5.17,"i":-0.008},{"k":15,"t":5.2,"i":-0.003},
{"k":16,"t":0.005,"i":0},{"k":16,"t":0.1,"i":0},{"k":16,"t":0.1005,"i":-0.67},{"k":16,"t":0.11,"i":-1.05},{"k":16,"t":0.12,"i":-1.3},{"k":16,"t":0.135,"i":-1.42},{"k":16,"t":0.16,"i":-1.46},{"k":16,"t":0.2,"i":-1.49},{"k":16,"t":0.25,"i":-1.5},{"k":16,"t":0.3,"i":-1.51},{"k":16,"t":0.313,"i":-1.5},{"k":16,"t":0.315,"i":-1.96},{"k":16,"t":0.317,"i":-1.51},{"k":16,"t":0.34,"i":-1.53},{"k":16,"t":0.4,"i":-1.49},{"k":16,"t":0.46,"i":-1.54},{"k":16,"t":0.52,"i":-1.5},{"k":16,"t":0.58,"i":-1.53},{"k":16,"t":0.64,"i":-1.48},{"k":16,"t":0.7,"i":-1.52},{"k":16,"t":0.76,"i":-1.49},{"k":16,"t":0.82,"i":-1.53},{"k":16,"t":0.88,"i":-1.47},{"k":16,"t":0.94,"i":-1.5},{"k":16,"t":1.0,"i":-1.46},{"k":16,"t":1.06,"i":-1.51},{"k":16,"t":1.12,"i":-1.48},{"k":16,"t":1.18,"i":-1.53},{"k":16,"t":1.24,"i":-1.49},{"k":16,"t":1.3,"i":-1.54},{"k":16,"t":1.36,"i":-1.51},{"k":16,"t":1.42,"i":-1.55},{"k":16,"t":1.48,"i":-1.5},{"k":16,"t":1.54,"i":-1.53},{"k":16,"t":1.6,"i":-1.48},{"k":16,"t":1.66,"i":-1.52},{"k":16,"t":1.72,"i":-1.49},{"k":16,"t":1.78,"i":-1.54},{"k":16,"t":1.84,"i":-1.5},{"k":16,"t":1.9,"i":-1.53},{"k":16,"t":1.96,"i":-1.49},{"k":16,"t":2.02,"i":-1.52},{"k":16,"t":2.08,"i":-1.56},{"k":16,"t":2.14,"i":-1.53},{"k":16,"t":2.2,"i":-1.58},{"k":16,"t":2.26,"i":-1.55},{"k":16,"t":2.32,"i":-1.59},{"k":16,"t":2.38,"i":-1.54},{"k":16,"t":2.44,"i":-1.51},{"k":16,"t":2.5,"i":-1.55},{"k":16,"t":2.56,"i":-1.5},{"k":16,"t":2.62,"i":-1.53},{"k":16,"t":2.68,"i":-1.55},{"k":16,"t":2.74,"i":-1.58},{"k":16,"t":2.8,"i":-1.56},{"k":16,"t":2.86,"i":-1.53},{"k":16,"t":2.92,"i":-1.5},{"k":16,"t":2.98,"i":-1.54},{"k":16,"t":3.04,"i":-1.49},{"k":16,"t":3.1,"i":-1.52},{"k":16,"t":3.16,"i":-1.48},{"k":16,"t":3.22,"i":-1.53},{"k":16,"t":3.28,"i":-1.5},{"k":16,"t":3.34,"i":-1.54},{"k":16,"t":3.4,"i":-1.51},{"k":16,"t":3.46,"i":-1.55},{"k":16,"t":3.52,"i":-1.52},{"k":16,"t":3.58,"i":-1.57},{"k":16,"t":3.64,"i":-1.54},{"k":16,"t":3.699,"i":-1.57},{"k":16,"t":3.701,"i":-1.68},{"k":16,"t":3.703,"i":-1.56},{"k":16,"t":3.76,"i":-1.53},{"k":16,"t":3.82,"i":-1.5},{"k":16,"t":3.88,"i":-1.54},{"k":16,"t":3.94,"i":-1.51},{"k":16,"t":4.0,"i":-1.53},{"k":16,"t":4.06,"i":-1.5},{"k":16,"t":4.1,"i":-1.52},
{"k":16,"t":4.1005,"i":-0.9},{"k":16,"t":4.12,"i":-0.865},{"k":16,"t":4.15,"i":-0.84},{"k":16,"t":4.2,"i":-0.825},{"k":16,"t":4.3,"i":-0.82},{"k":16,"t":4.4,"i":-0.81},{"k":16,"t":4.5,"i":-0.81},{"k":16,"t":4.6,"i":-0.82},{"k":16,"t":4.7,"i":-0.83},{"k":16,"t":4.8,"i":-0.815},{"k":16,"t":4.9,"i":-0.825},{"k":16,"t":5.0,"i":-0.805},{"k":16,"t":5.108,"i":-0.815},{"k":16,"t":5.1085,"i":-0.067},{"k":16,"t":5.12,"i":-0.044},{"k":16,"t":5.14,"i":-0.022},{"k":16,"t":5.17,"i":-0.009},{"k":16,"t":5.2,"i":-0.003},
{"k":17,"t":0.005,"i":0},{"k":17,"t":0.1,"i":0},{"k":17,"t":0.1005,"i":-0.72},{"k":17,"t":0.11,"i":-1.1},{"k":17,"t":0.12,"i":-1.4},{"k":17,"t":0.135,"i":-1.55},{"k":17,"t":0.16,"i":-1.6},{"k":17,"t":0.2,"i":-1.64},{"k":17,"t":0.25,"i":-1.67},{"k":17,"t":0.3,"i":-1.7},{"k":17,"t":0.34,"i":-1.73},{"k":17,"t":0.4,"i":-1.7},{"k":17,"t":0.46,"i":-1.75},{"k":17,"t":0.52,"i":-1.71},{"k":17,"t":0.539,"i":-1.74},{"k":17,"t":0.541,"i":-1.86},{"k":17,"t":0.543,"i":-1.73},{"k":17,"t":0.58,"i":-1.74},{"k":17,"t":0.64,"i":-1.69},{"k":17,"t":0.7,"i":-1.73},{"k":17,"t":0.76,"i":-1.7},{"k":17,"t":0.82,"i":-1.68},{"k":17,"t":0.88,"i":-1.66},{"k":17,"t":0.94,"i":-1.74},{"k":17,"t":1.0,"i":-1.78},{"k":17,"t":1.06,"i":-1.76},{"k":17,"t":1.12,"i":-1.8},{"k":17,"t":1.18,"i":-1.72},{"k":17,"t":1.24,"i":-1.68},{"k":17,"t":1.3,"i":-1.65},{"k":17,"t":1.36,"i":-1.69},{"k":17,"t":1.42,"i":-1.66},{"k":17,"t":1.48,"i":-1.7},{"k":17,"t":1.54,"i":-1.67},{"k":17,"t":1.6,"i":-1.71},{"k":17,"t":1.66,"i":-1.68},{"k":17,"t":1.72,"i":-1.73},{"k":17,"t":1.78,"i":-1.7},{"k":17,"t":1.84,"i":-1.74},{"k":17,"t":1.9,"i":-1.71},{"k":17,"t":1.919,"i":-1.72},{"k":17,"t":1.921,"i":-1.85},{"k":17,"t":1.923,"i":-1.73},{"k":17,"t":1.96,"i":-1.75},{"k":17,"t":2.019,"i":-1.71},{"k":17,"t":2.021,"i":-1.92},{"k":17,"t":2.023,"i":-1.72},{"k":17,"t":2.08,"i":-1.77},{"k":17,"t":2.14,"i":-1.73},{"k":17,"t":2.2,"i":-1.7},{"k":17,"t":2.26,"i":-1.74},{"k":17,"t":2.32,"i":-1.69},{"k":17,"t":2.38,"i":-1.73},{"k":17,"t":2.44,"i":-1.67},{"k":17,"t":2.5,"i":-1.72},{"k":17,"t":2.56,"i":-1.69},{"k":17,"t":2.62,"i":-1.74},{"k":17,"t":2.68,"i":-1.7},{"k":17,"t":2.74,"i":-1.75},{"k":17,"t":2.8,"i":-1.71},{"k":17,"t":2.86,"i":-1.74},{"k":17,"t":2.92,"i":-1.7},{"k":17,"t":2.98,"i":-1.73},{"k":17,"t":3.029,"i":-1.7},{"k":17,"t":3.031,"i":-1.85},{"k":17,"t":3.033,"i":-1.71},{"k":17,"t":3.04,"i":-1.68},{"k":17,"t":3.1,"i":-1.72},{"k":17,"t":3.16,"i":-1.69},{"k":17,"t":3.22,"i":-1.74},{"k":17,"t":3.28,"i":-1.71},{"k":17,"t":3.34,"i":-1.76},{"k":17,"t":3.4,"i":-1.72},{"k":17,"t":3.46,"i":-1.75},{"k":17,"t":3.52,"i":-1.7},{"k":17,"t":3.58,"i":-1.73},{"k":17,"t":3.64,"i":-1.69},{"k":17,"t":3.7,"i":-1.74},{"k":17,"t":3.76,"i":-1.71},{"k":17,"t":3.82,"i":-1.76},{"k":17,"t":3.88,"i":-1.72},{"k":17,"t":3.94,"i":-1.7},{"k":17,"t":4.0,"i":-1.74},{"k":17,"t":4.06,"i":-1.71},{"k":17,"t":4.1,"i":-1.73},
{"k":17,"t":4.1005,"i":-0.91},{"k":17,"t":4.12,"i":-0.87},{"k":17,"t":4.15,"i":-0.845},{"k":17,"t":4.2,"i":-0.825},{"k":17,"t":4.3,"i":-0.815},{"k":17,"t":4.4,"i":-0.82},{"k":17,"t":4.5,"i":-0.82},{"k":17,"t":4.6,"i":-0.81},{"k":17,"t":4.7,"i":-0.815},{"k":17,"t":4.8,"i":-0.83},{"k":17,"t":4.9,"i":-0.82},{"k":17,"t":5.0,"i":-0.81},{"k":17,"t":5.108,"i":-0.825},{"k":17,"t":5.1085,"i":-0.066},{"k":17,"t":5.12,"i":-0.043},{"k":17,"t":5.14,"i":-0.021},{"k":17,"t":5.17,"i":-0.008},{"k":17,"t":5.2,"i":-0.003},
{"k":17,"t":0.37,"i":-1.69},{"k":17,"t":0.43,"i":-1.73},{"k":17,"t":0.49,"i":-1.69},{"k":17,"t":0.56,"i":-1.7},{"k":17,"t":0.61,"i":-1.72},{"k":17,"t":0.67,"i":-1.67},{"k":17,"t":0.73,"i":-1.75},{"k":17,"t":0.79,"i":-1.72},{"k":17,"t":0.85,"i":-1.7},{"k":17,"t":0.91,"i":-1.71},{"k":17,"t":0.97,"i":-1.75},{"k":17,"t":1.03,"i":-1.8},{"k":17,"t":1.09,"i":-1.77},{"k":17,"t":1.15,"i":-1.75},{"k":17,"t":1.21,"i":-1.71},{"k":17,"t":1.27,"i":-1.68},{"k":17,"t":1.33,"i":-1.67},{"k":17,"t":1.39,"i":-1.64},{"k":17,"t":1.45,"i":-1.68},{"k":17,"t":1.51,"i":-1.71},{"k":17,"t":1.57,"i":-1.66},{"k":17,"t":1.63,"i":-1.73},{"k":17,"t":1.69,"i":-1.7},{"k":17,"t":1.75,"i":-1.74},{"k":17,"t":1.81,"i":-1.69},{"k":17,"t":1.87,"i":-1.73},{"k":17,"t":1.94,"i":-1.71},{"k":17,"t":1.99,"i":-1.74},{"k":17,"t":2.05,"i":-1.74},{"k":17,"t":2.11,"i":-1.74},{"k":17,"t":2.17,"i":-1.75},{"k":17,"t":2.23,"i":-1.71},{"k":17,"t":2.29,"i":-1.72},{"k":17,"t":2.35,"i":-1.7},{"k":17,"t":2.41,"i":-1.7},{"k":17,"t":2.47,"i":-1.7},{"k":17,"t":2.53,"i":-1.74},{"k":17,"t":2.59,"i":-1.71},{"k":17,"t":2.65,"i":-1.73},{"k":17,"t":2.71,"i":-1.72},{"k":17,"t":2.77,"i":-1.73},{"k":17,"t":2.83,"i":-1.72},{"k":17,"t":2.89,"i":-1.71},{"k":17,"t":2.95,"i":-1.71},{"k":17,"t":3.01,"i":-1.72},{"k":17,"t":3.07,"i":-1.71},{"k":17,"t":3.13,"i":-1.7},{"k":17,"t":3.19,"i":-1.72},{"k":17,"t":3.25,"i":-1.73},{"k":17,"t":3.31,"i":-1.74},{"k":17,"t":3.37,"i":-1.74},{"k":17,"t":3.43,"i":-1.72},{"k":17,"t":3.49,"i":-1.73},{"k":17,"t":3.55,"i":-1.72},{"k":17,"t":3.61,"i":-1.71},{"k":17,"t":3.67,"i":-1.71},{"k":17,"t":3.73,"i":-1.73},{"k":17,"t":3.79,"i":-1.73},{"k":17,"t":3.85,"i":-1.75},{"k":17,"t":3.91,"i":-1.73},{"k":17,"t":3.97,"i":-1.71},{"k":17,"t":4.03,"i":-1.73},
{"k":18,"t":0.005,"i":0},{"k":18,"t":0.1,"i":0},{"k":18,"t":0.1005,"i":-0.77},{"k":18,"t":0.11,"i":-1.25},{"k":18,"t":0.12,"i":-1.55},{"k":18,"t":0.135,"i":-1.75},{"k":18,"t":0.15,"i":-1.83},{"k":18,"t":0.17,"i":-1.86},{"k":18,"t":0.2,"i":-1.9},{"k":18,"t":0.227,"i":-1.93},{"k":18,"t":0.229,"i":-2.2},{"k":18,"t":0.231,"i":-1.92},{"k":18,"t":0.26,"i":-1.96},{"k":18,"t":0.3,"i":-1.99},{"k":18,"t":0.34,"i":-2.03},{"k":18,"t":0.4,"i":-1.97},{"k":18,"t":0.429,"i":-1.99},{"k":18,"t":0.431,"i":-2.17},{"k":18,"t":0.433,"i":-1.98},{"k":18,"t":0.46,"i":-2.04},{"k":18,"t":0.52,"i":-1.98},{"k":18,"t":0.58,"i":-2.01},{"k":18,"t":0.64,"i":-1.95},{"k":18,"t":0.7,"i":-2.02},{"k":18,"t":0.76,"i":-1.96},{"k":18,"t":0.82,"i":-1.96},{"k":18,"t":0.822,"i":-2.32},{"k":18,"t":0.824,"i":-1.98},{"k":18,"t":0.88,"i":-2.03},{"k":18,"t":0.94,"i":-1.97},{"k":18,"t":1.0,"i":-2.02},{"k":18,"t":1.06,"i":-1.98},{"k":18,"t":1.12,"i":-2.05},{"k":18,"t":1.18,"i":-1.99},{"k":18,"t":1.24,"i":-2.03},{"k":18,"t":1.3,"i":-1.97},{"k":18,"t":1.36,"i":-2.04},{"k":18,"t":1.42,"i":-2.0},{"k":18,"t":1.48,"i":-2.06},{"k":18,"t":1.54,"i":-2.01},{"k":18,"t":1.6,"i":-2.07},{"k":18,"t":1.66,"i":-2.02},{"k":18,"t":1.72,"i":-2.06},{"k":18,"t":1.78,"i":-2.0},{"k":18,"t":1.84,"i":-2.05},{"k":18,"t":1.851,"i":-2.23},{"k":18,"t":1.853,"i":-2.03},{"k":18,"t":1.9,"i":-2.01},{"k":18,"t":1.96,"i":-2.06},{"k":18,"t":2.02,"i":-1.99},{"k":18,"t":2.08,"i":-2.03},{"k":18,"t":2.14,"i":-1.96},{"k":18,"t":2.2,"i":-2.0},{"k":18,"t":2.26,"i":-1.95},{"k":18,"t":2.32,"i":-2.01},{"k":18,"t":2.38,"i":-1.97},{"k":18,"t":2.44,"i":-2.03},{"k":18,"t":2.5,"i":-1.98},{"k":18,"t":2.56,"i":-2.02},{"k":18,"t":2.62,"i":-1.96},{"k":18,"t":2.68,"i":-2.01},{"k":18,"t":2.74,"i":-1.97},{"k":18,"t":2.8,"i":-2.03},{"k":18,"t":2.86,"i":-1.98},{"k":18,"t":2.909,"i":-1.95},{"k":18,"t":2.911,"i":-2.12},{"k":18,"t":2.913,"i":-1.96},{"k":18,"t":2.92,"i":-1.94},{"k":18,"t":2.98,"i":-1.99},{"k":18,"t":3.04,"i":-1.92},{"k":18,"t":3.1,"i":-1.97},{"k":18,"t":3.16,"i":-1.91},{"k":18,"t":3.22,"i":-1.96},{"k":18,"t":3.28,"i":-1.93},{"k":18,"t":3.34,"i":-1.98},{"k":18,"t":3.4,"i":-1.94},{"k":18,"t":3.46,"i":-2.0},{"k":18,"t":3.52,"i":-1.96},{"k":18,"t":3.58,"i":-2.02},{"k":18,"t":3.64,"i":-1.97},{"k":18,"t":3.7,"i":-2.03},{"k":18,"t":3.76,"i":-1.99},{"k":18,"t":3.82,"i":-2.05},{"k":18,"t":3.88,"i":-2.02},{"k":18,"t":3.94,"i":-2.08},{"k":18,"t":3.979,"i":-2.04},{"k":18,"t":3.981,"i":-2.12},{"k":18,"t":3.983,"i":-2.05},{"k":18,"t":4.0,"i":-2.04},{"k":18,"t":4.06,"i":-2.06},{"k":18,"t":4.09,"i":-1.97},{"k":18,"t":4.1,"i":-1.99},
{"k":18,"t":4.1005,"i":-0.93},{"k":18,"t":4.12,"i":-0.88},{"k":18,"t":4.15,"i":-0.85},{"k":18,"t":4.2,"i":-0.83},{"k":18,"t":4.3,"i":-0.82},{"k":18,"t":4.4,"i":-0.815},{"k":18,"t":4.5,"i":-0.825},{"k":18,"t":4.6,"i":-0.815},{"k":18,"t":4.7,"i":-0.805},{"k":18,"t":4.8,"i":-0.82},{"k":18,"t":4.9,"i":-0.83},{"k":18,"t":5.0,"i":-0.815},{"k":18,"t":5.108,"i":-0.82},{"k":18,"t":5.1085,"i":-0.065},{"k":18,"t":5.12,"i":-0.042},{"k":18,"t":5.14,"i":-0.02},{"k":18,"t":5.17,"i":-0.008},{"k":18,"t":5.2,"i":-0.003},
{"k":18,"t":0.37,"i":-2.05},{"k":18,"t":0.49,"i":-1.95},{"k":18,"t":0.55,"i":-2.05},{"k":18,"t":0.61,"i":-1.99},{"k":18,"t":0.67,"i":-2.06},{"k":18,"t":0.73,"i":-1.94},{"k":18,"t":0.79,"i":-2.04},{"k":18,"t":0.85,"i":-1.95},{"k":18,"t":0.91,"i":-2.06},{"k":18,"t":0.97,"i":-1.95},{"k":18,"t":1.03,"i":-2.06},{"k":18,"t":1.09,"i":-1.96},{"k":18,"t":1.15,"i":-2.02},{"k":18,"t":1.21,"i":-1.96},{"k":18,"t":1.27,"i":-2.06},{"k":18,"t":1.33,"i":-1.99},{"k":18,"t":1.39,"i":-2.08},{"k":18,"t":1.45,"i":-1.98},{"k":18,"t":1.51,"i":-2.09},{"k":18,"t":1.57,"i":-1.99},{"k":18,"t":1.63,"i":-2.1},{"k":18,"t":1.69,"i":-1.99},{"k":18,"t":1.75,"i":-2.08},{"k":18,"t":1.81,"i":-1.97},{"k":18,"t":1.87,"i":-2.07},{"k":18,"t":1.93,"i":-1.98},{"k":18,"t":1.99,"i":-2.08},{"k":18,"t":2.05,"i":-1.95},{"k":18,"t":2.11,"i":-2.05},{"k":18,"t":2.17,"i":-1.93},{"k":18,"t":2.23,"i":-2.04},{"k":18,"t":2.29,"i":-1.93},{"k":18,"t":2.35,"i":-2.05},{"k":18,"t":2.41,"i":-1.95},{"k":18,"t":2.47,"i":-2.06},{"k":18,"t":2.53,"i":-1.95},{"k":18,"t":2.59,"i":-2.05},{"k":18,"t":2.65,"i":-1.94},{"k":18,"t":2.71,"i":-2.05},{"k":18,"t":2.77,"i":-1.95},{"k":18,"t":2.83,"i":-2.05},{"k":18,"t":2.89,"i":-2.02},{"k":18,"t":2.95,"i":-1.91},{"k":18,"t":3.01,"i":-2.0},{"k":18,"t":3.07,"i":-1.89},{"k":18,"t":3.13,"i":-1.99},{"k":18,"t":3.19,"i":-1.88},{"k":18,"t":3.25,"i":-1.99},{"k":18,"t":3.31,"i":-1.9},{"k":18,"t":3.37,"i":-2.0},{"k":18,"t":3.43,"i":-1.92},{"k":18,"t":3.49,"i":-2.03},{"k":18,"t":3.55,"i":-1.94},{"k":18,"t":3.61,"i":-2.05},{"k":18,"t":3.67,"i":-1.95},{"k":18,"t":3.73,"i":-2.06},{"k":18,"t":3.79,"i":-1.97},{"k":18,"t":3.85,"i":-2.09},{"k":18,"t":3.91,"i":-2.0},{"k":18,"t":3.97,"i":-2.1},{"k":18,"t":4.03,"i":-2.0}
]},
"mark":{"type":"line","color":"#000000","strokeWidth":1.8,"clip":true},
"encoding":{
"x":{"field":"t","type":"quantitative","scale":{"domain":[0.005,5.2],"nice":false,"zero":false},
"axis":{"orient":"bottom","values":[0.1,4.1],"format":".1f","title":"t [s]","grid":false,"tickSize":-6,"labelPadding":12,"labelFontSize":20,"labelColor":"#262626","titleFontSize":24,"titleFontWeight":"normal","titleColor":"#262626","titlePadding":17,"domainColor":"#5a5a5a","tickColor":"#5a5a5a","labelFlush":false}},
"y":{"field":"i","type":"quantitative","scale":{"domain":[-2.58,0.255],"nice":false,"zero":false},
"axis":{"orient":"left","values":[0,-1,-2],"labelExpr":"toString(datum.value)","title":"I [nA]","grid":false,"tickSize":-5,"labelPadding":13,"labelFontSize":20,"labelColor":"#262626","titleFontSize":24,"titleFontWeight":"normal","titleColor":"#262626","titlePadding":12,"domainColor":"#5a5a5a","tickColor":"#5a5a5a","labelFlush":false}},
"detail":{"field":"k","type":"nominal"}
}},
{"data":{"values":[{"a":1}]},
"mark":{"type":"point","opacity":0},
"encoding":{
"x":{"datum":0.1,"type":"quantitative","scale":{"domain":[0.005,5.2],"nice":false,"zero":false},
"axis":{"orient":"top","title":"25 °C\u00a0\u00a0Inactivation","labels":false,"ticks":false,"domain":false,"grid":false,"titleFontSize":19,"titleFontWeight":"normal","titleColor":"#000000","titleAnchor":"end","titleBaseline":"alphabetic","titleY":3}},
"y":{"datum":0,"type":"quantitative","scale":{"domain":[-2.58,0.255],"nice":false,"zero":false},
"axis":{"orient":"right","title":"BBP Channelpedia ID 40254 rep 2","labels":false,"ticks":false,"domain":false,"grid":false,"titleFontSize":13.4,"titleFontWeight":"normal","titleColor":"#000000","titleAngle":270,"titleX":12,"titleY":234.5,"titleAlign":"center","titleBaseline":"middle"}}
}}
],
"resolve":{"axis":{"x":"independent","y":"independent"}}
}
